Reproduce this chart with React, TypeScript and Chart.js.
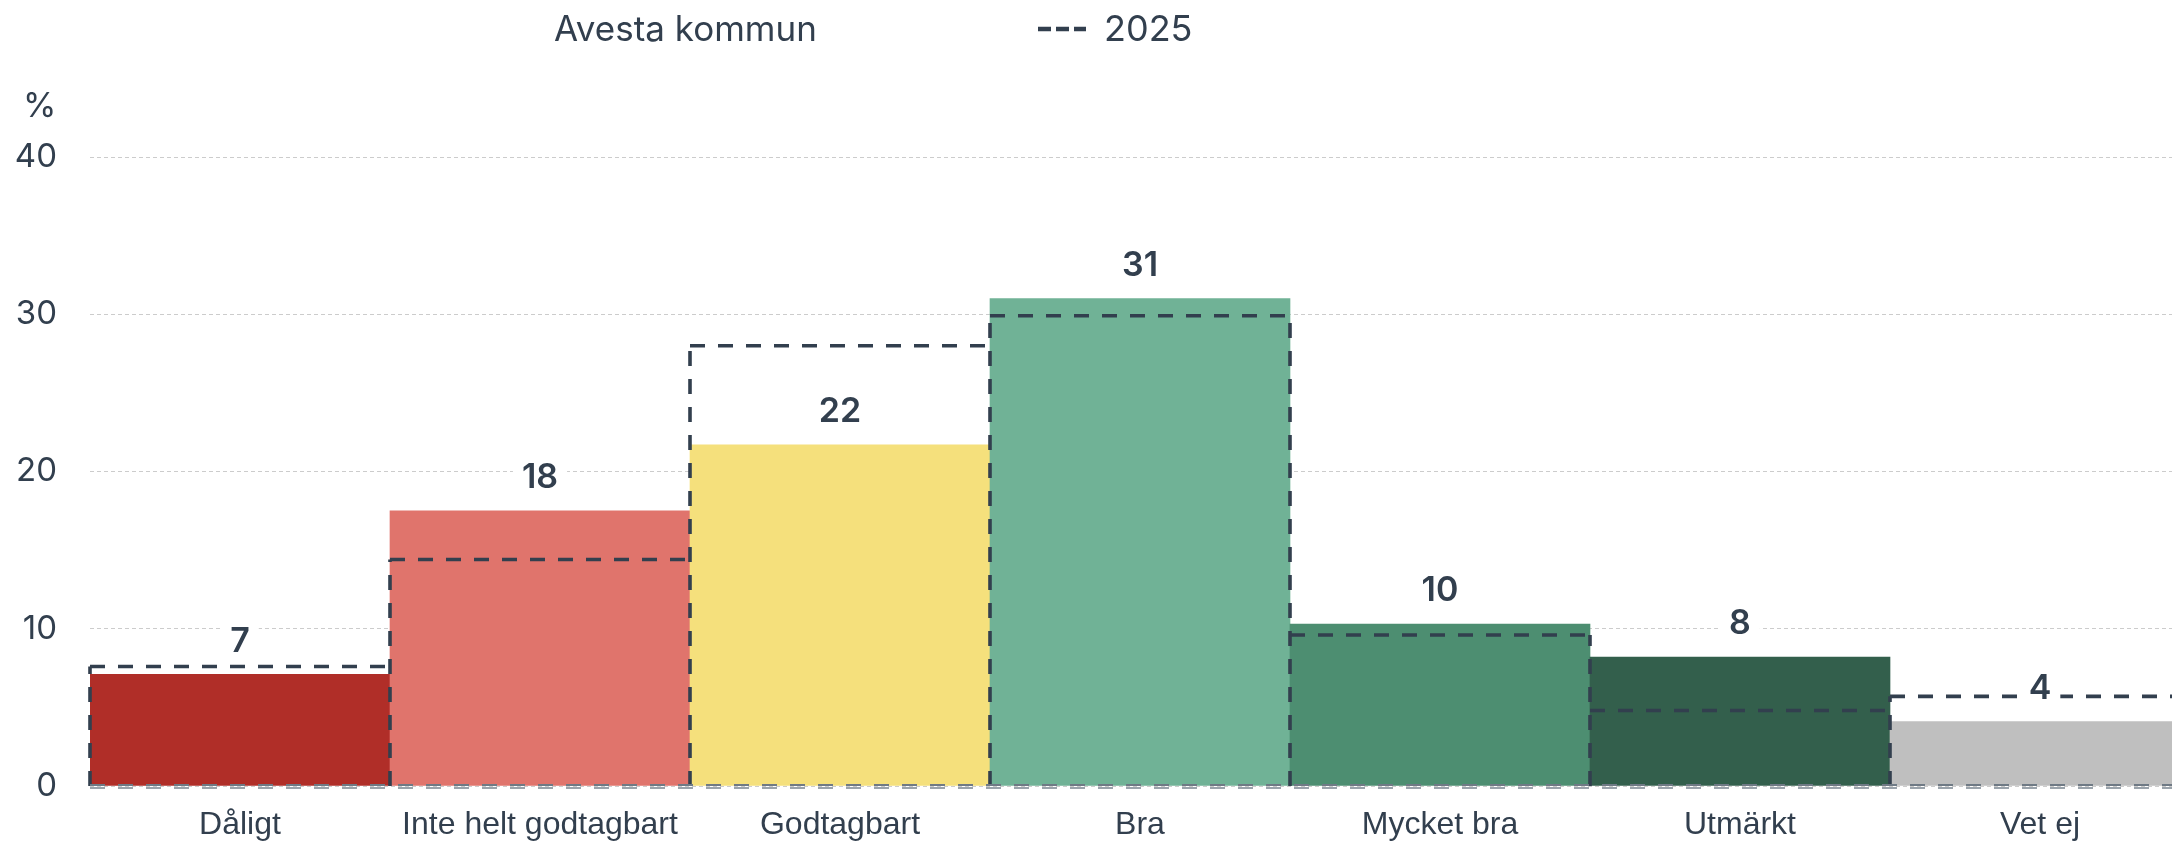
import React, { useEffect, useRef } from "react";
import { Chart, registerables } from "chart.js";

Chart.register(...registerables);

const categories = ["Dåligt", "Inte helt godtagbart", "Godtagbart", "Bra", "Mycket bra", "Utmärkt", "Vet ej"];
const avestaValues = [7.1, 17.5, 21.7, 31.0, 10.3, 8.2, 4.1];
const values2025 = [7.6, 14.4, 28.0, 29.9, 9.6, 4.8, 5.7];
const barColors = ["#b02e28", "#e0746c", "#f5e07c", "#70b296", "#4d8e71", "#335f4c", "#bfbfbf"];
const seriesNames = ["Avesta kommun", "2025"];
const yMin = 0;
const yMax = 40;
const yStep = 10;
const yUnit = "%";

const TEXT = "#323f4e";
const DASH = "#323f4e";

const overlayPlugin = {
  id: "overlay",
  afterDatasetsDraw(chart: any) {
    const ctx = chart.ctx;
    const yScale = chart.scales.y;
    const base = yScale.getPixelForValue(0);
    const area = chart.chartArea;
    const els = chart.getDatasetMeta(1).data;
    const n = els.length;
    ctx.save();
    // baseline
    ctx.strokeStyle = "#9aa3ab";
    ctx.lineWidth = 2;
    ctx.setLineDash([15, 13]);
    ctx.beginPath();
    ctx.moveTo(area.left, base + 2);
    ctx.lineTo(area.right, base + 2);
    ctx.stroke();

    // dashed outlines for 2025
    ctx.strokeStyle = DASH;
    ctx.lineWidth = 3.6;
    ctx.setLineDash([15, 13]);
    ctx.beginPath();
    for (let i = 0; i < n; i++) {
      const el = els[i];
      const l = el.x - el.width / 2;
      const r = el.x + el.width / 2;
      ctx.moveTo(l, el.y);
      ctx.lineTo(r, el.y);
    }
    for (let i = 0; i <= n; i++) {
      const x = i < n ? els[i].x - els[i].width / 2 : els[n - 1].x + els[n - 1].width / 2;
      const tA = i > 0 ? els[i - 1].y : base;
      const tB = i < n ? els[i].y : base;
      const top = Math.min(tA, tB);
      ctx.moveTo(x, base);
      ctx.lineTo(x, top);
    }
    ctx.stroke();
    ctx.strokeStyle = "#6f7a85";
    ctx.lineWidth = 2;
    ctx.beginPath();
    ctx.moveTo(els[0].x - els[0].width / 2, base - 1);
    ctx.lineTo(els[n - 1].x + els[n - 1].width / 2, base - 1);
    ctx.stroke();

    // value labels
    const m0 = chart.getDatasetMeta(0).data;
    const ds = chart.data.datasets[0].data;
    ctx.setLineDash([]);
    ctx.font = "600 34px Inter";
    ctx.textAlign = "center";
    ctx.textBaseline = "middle";
    for (let i = 0; i < m0.length; i++) {
      const el = m0[i];
      const txt = String(Math.round(ds[i]));
      const w = ctx.measureText(txt).width;
      const cy = el.y - 34;
      ctx.fillStyle = "#ffffff";
      ctx.fillRect(el.x - w / 2 - 9, cy - 17, w + 18, 34);
      ctx.fillStyle = TEXT;
      ctx.fillText(txt, el.x, cy + 1);
    }
    ctx.restore();
  },
};

export default function App() {
  const ref = useRef<HTMLCanvasElement>(null);
  useEffect(() => {
    document.body.style.margin = "0";
    document.body.style.overflow = "hidden";
    const chart = new Chart(ref.current as HTMLCanvasElement, {
      type: "bar",
      data: {
        labels: categories,
        datasets: [
          {
            label: seriesNames[0],
            data: avestaValues,
            backgroundColor: barColors,
            barPercentage: 1,
            categoryPercentage: 1,
            grouped: false,
            order: 2,
          } as any,
          {
            label: seriesNames[1],
            data: values2025,
            backgroundColor: "rgba(0,0,0,0)",
            borderWidth: 0,
            barPercentage: 1,
            categoryPercentage: 1,
            grouped: false,
            order: 1,
          } as any,
        ],
      },
      options: {
        responsive: false,
        maintainAspectRatio: false,
        animation: false,
        layout: { padding: { top: 157, left: 0, right: 0, bottom: 0 } },
        plugins: { legend: { display: false }, tooltip: { enabled: false } },
        scales: {
          x: {
            grid: { display: false, drawTicks: false },
            border: { display: false },
            ticks: {
              font: { family: '"Liberation Sans", Arial, sans-serif', size: 32 },
              color: TEXT,
              padding: 20,
              maxRotation: 0,
              autoSkip: false,
            },
            afterFit: (s: any) => {
              s.height = 56;
            },
          },
          y: {
            min: yMin,
            max: yMax,
            ticks: {
              stepSize: yStep,
              font: { family: "Inter, sans-serif", size: 33 },
              color: TEXT,
              padding: 33,
            },
            grid: { color: "#cccccc", lineWidth: 1, drawTicks: false },
            border: { display: false, dash: [4, 3] },
            afterFit: (s: any) => {
              s.width = 90;
            },
          },
        },
      },
      plugins: [overlayPlugin],
    });
    return () => chart.destroy();
  }, []);

  return (
    <div style={{ position: "relative", width: 2172, height: 842, overflow: "hidden", fontFamily: "Inter, sans-serif", color: TEXT }}>
      <canvas ref={ref} width={2190} height={842} style={{ display: "block", width: 2190, height: 842 }} />
      <div style={{ position: "absolute", left: 554, top: 10, fontSize: 35, lineHeight: "36px", whiteSpace: "nowrap" }}>
        {seriesNames[0]}
      </div>
      <svg style={{ position: "absolute", left: 1038, top: 26 }} width={48} height={6}>
        <line x1={0} y1={3} x2={48} y2={3} stroke={DASH} strokeWidth={4.5} strokeDasharray="13 5" />
      </svg>
      <div style={{ position: "absolute", left: 1104, top: 10, fontSize: 36, lineHeight: "36px", whiteSpace: "nowrap" }}>
        {seriesNames[1]}
      </div>
      <div style={{ position: "absolute", left: 23, top: 88, fontSize: 34, lineHeight: "34px" }}>{yUnit}</div>
    </div>
  );
}
